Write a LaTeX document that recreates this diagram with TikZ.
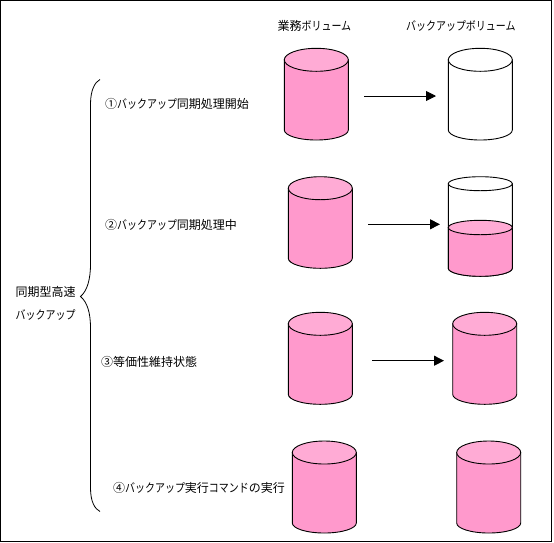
\documentclass[tikz,border=0pt]{standalone}
\usepackage{fontspec}
\usetikzlibrary{arrows.meta}
\setmainfont{Noto Sans CJK JP}
\definecolor{cylbody}{HTML}{FF99CC}
\definecolor{cyltop}{HTML}{FFABD5}
\newcommand{\kn}[1]{\scalebox{0.83}[1]{#1}}
% centre x, top y, bottom y, top radius y, bottom radius y, body colour, lid colour
\newcommand{\cylshape}[7]{%
  \pgfmathsetmacro{\cxl}{#1-32}\pgfmathsetmacro{\cxr}{#1+32}%
  \pgfmathsetmacro{\cyt}{#2+#4}\pgfmathsetmacro{\cyb}{#3-#5}%
  \pgfmathsetmacro{\cym}{\cyb+0.5523*#5}%
  \pgfmathsetmacro{\cxa}{#1-17.7}\pgfmathsetmacro{\cxb}{#1+17.7}%
  \draw[cylline,fill=#6] (\cxl,\cyt) -- (\cxl,\cyb)
    .. controls (\cxl,\cym) and (\cxa,#3) .. (#1,#3)
    .. controls (\cxb,#3) and (\cxr,\cym) .. (\cxr,\cyb)
    -- (\cxr,\cyt) -- cycle;
  \draw[cylline,fill=#7] (#1,\cyt) ellipse[x radius=32,y radius=#4];
}
\tikzset{
  x=1pt,y=-1pt,
  cylline/.style={draw=black,line width=0.9pt},
  flow/.style={draw=black,line width=0.9pt,-{Triangle[length=10pt,width=10pt]}},
  lbl/.style={inner sep=0pt,anchor=west,font=\fontsize{12pt}{14pt}\selectfont},
  frame/.style={draw=black,line width=1pt,fill=white}
}
\begin{document}
\begin{tikzpicture}
\useasboundingbox (0,0) rectangle (554,542);
\draw[frame] (0.5,0.5) rectangle (551.5,541);

\node[lbl] (h1) at (277.5,26) {業務\kn{ボ}\kn{リュ}\kn{ーム}};
\node[lbl] (h2) at (406,26) {\kn{バックアップボリューム}};

\node[lbl] (l1) at (105,103.5) {①\kn{バックアップ}同期処理開始};
\node[lbl] (l2) at (105,225) {②\kn{バックアップ}同期処理中};
\node[lbl] (l3) at (101,361.5) {③等価性維持状態};
\node[lbl] (l4) at (113,487.5) {④\kn{バックアップ}実行\kn{コマンド}の実行};
\node[lbl] (g1) at (15.5,291.5) {同期型高速};
\node[lbl] (g2) at (15.5,315) {\kn{バックアップ}};

\coordinate (bt) at (100,79.5);
\coordinate (bb) at (100,511.5);
\coordinate (bm) at (80.5,296.5);
\draw[black,line width=0.8pt] (bt)
  .. controls (95,82) and (90.5,90) .. (90.5,104) -- (90.5,264)
  .. controls (90.5,280) and (87,291) .. (bm)
  .. controls (87,302) and (90.5,312) .. (90.5,328) -- (90.5,488)
  .. controls (90.5,502) and (95,509) .. (bb);

\cylshape{316.3}{48.3}{140}{11.5}{10}{cylbody}{cyltop}
\cylshape{480.3}{48.3}{140}{11.5}{10}{white}{white}
\cylshape{320.3}{176.7}{268.3}{11.5}{10}{cylbody}{cyltop}
\cylshape{480.3}{176.7}{276.3}{7}{8}{white}{white}
\cylshape{480.3}{220.3}{276.3}{7.2}{8}{cylbody}{cyltop}
\cylshape{320.3}{312.3}{404.3}{11.5}{10}{cylbody}{cyltop}
\cylshape{484.7}{312.3}{404.3}{11.5}{10}{cylbody}{cyltop}
\cylshape{324.3}{441}{533}{11.5}{10}{cylbody}{cyltop}
\cylshape{488.7}{441}{533}{11.5}{10}{cylbody}{cyltop}

\coordinate (a1s) at (364,96);   \coordinate (a1e) at (436,96);
\coordinate (a2s) at (368,224.3);\coordinate (a2e) at (440,224.3);
\coordinate (a3s) at (372,360.7);\coordinate (a3e) at (444,360.7);
\draw[flow] (a1s) -- (a1e);
\draw[flow] (a2s) -- (a2e);
\draw[flow] (a3s) -- (a3e);
\end{tikzpicture}
\end{document}
